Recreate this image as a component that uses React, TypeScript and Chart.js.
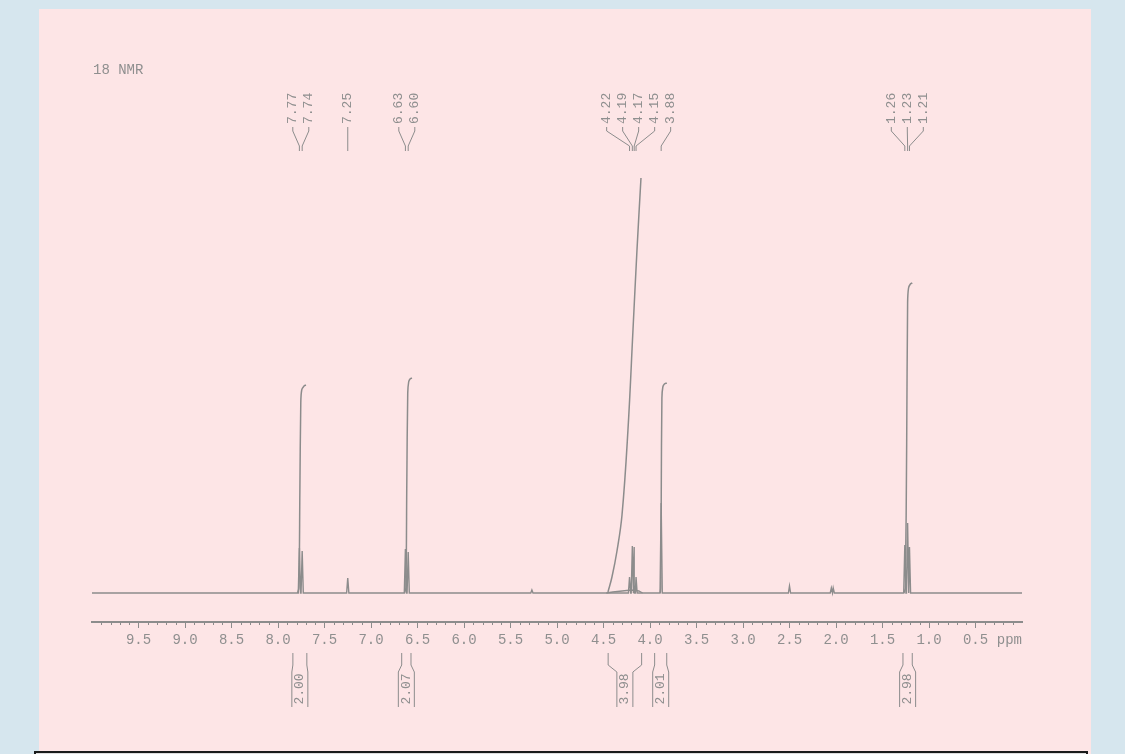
import React, { useEffect, useRef } from "react";
import { Chart, registerables } from "chart.js";

Chart.register(...registerables);

// ---- data (ppm / intensity in arbitrary units) ----
const peakPpm = [7.77, 7.74, 7.25, 6.63, 6.6, 5.27, 4.22, 4.19, 4.17, 4.15, 3.88, 2.5, 2.05, 2.03, 1.26, 1.23, 1.21];
const peakHeight = [45, 42, 15, 44, 41, 3, 16, 47, 46, 16, 90, 7, 5, 5, 48, 70, 46];

const humpPpm = [4.47, 4.4, 4.3, 4.2, 4.12, 4.08];
const humpHeight = [0, 1, 2, 3, 2, 0];

const int1Ppm = [7.79, 7.775, 7.765, 7.755, 7.745, 7.72, 7.7];
const int1Val = [0, 5, 100, 190, 203, 207, 208];
const int2Ppm = [6.64, 6.625, 6.615, 6.605, 6.595, 6.58, 6.56];
const int2Val = [0, 5, 110, 200, 211, 214, 215];
const int3Ppm = [4.452, 4.409, 4.355, 4.301, 4.237, 4.183, 4.14, 4.097];
const int3Val = [1, 16, 42, 78, 163, 263, 343, 415];
const int4Ppm = [3.89, 3.884, 3.879, 3.872, 3.862, 3.845, 3.82];
const int4Val = [0, 5, 100, 195, 206, 209, 210];
const int5Ppm = [1.27, 1.255, 1.24, 1.23, 1.22, 1.2, 1.18];
const int5Val = [0, 5, 150, 290, 305, 309, 310];

const labelGroups = [[7.77, 7.74], [7.25], [6.63, 6.6], [4.22, 4.19, 4.17, 4.15, 3.88], [1.26, 1.23, 1.21]];

const intFrom = [7.84, 6.67, 4.45, 3.95, 1.28];
const intTo = [7.69, 6.57, 4.09, 3.82, 1.18];
const intLabel = ["2.00", "2.07", "3.98", "2.01", "2.98"];

const tickValues = [9.5, 9.0, 8.5, 8.0, 7.5, 7.0, 6.5, 6.0, 5.5, 5.0, 4.5, 4.0, 3.5, 3.0, 2.5, 2.0, 1.5, 1.0, 0.5];
const title = "18 NMR";

const GRAY = "#8c8c8c";
const TEXT = "#8f8f8f";
const MONO = '"Liberation Mono", "DejaVu Sans Mono", monospace';

function zip(xs: number[], ys: number[]) {
  return xs.map((x, i) => ({ x, y: ys[i] }));
}

function buildSpectrum() {
  const pts: { x: number; y: number }[] = [{ x: 0, y: 0 }, { x: 10, y: 0 }];
  peakPpm.forEach((p, i) => {
    const h = peakHeight[i];
    pts.push({ x: p + 0.012, y: 0 }, { x: p, y: h }, { x: p - 0.012, y: 0 });
  });
  pts.sort((a, b) => a.x - b.x);
  return pts;
}

const nmrPlugin = {
  id: "nmrDecor",
  afterDraw(chart: any) {
    const ctx = chart.ctx as CanvasRenderingContext2D;
    const xs = chart.scales.x;
    const ca = chart.chartArea;
    const X = (v: number) => xs.getPixelForValue(v);
    ctx.save();
    ctx.strokeStyle = GRAY;
    ctx.fillStyle = TEXT;
    ctx.lineWidth = 1;

    // minor ticks
    for (let i = 1; i < 100; i++) {
      if (i % 5 === 0) continue;
      const x = Math.round(X(i / 10)) + 0.5;
      ctx.beginPath();
      ctx.moveTo(x, ca.bottom);
      ctx.lineTo(x, ca.bottom + 3);
      ctx.stroke();
    }

    // ppm unit
    ctx.font = "14px " + MONO;
    ctx.textAlign = "right";
    ctx.textBaseline = "middle";
    ctx.fillText("ppm", X(0), ca.bottom + 18);

    // title
    ctx.textAlign = "left";
    ctx.fillText(title, 93, 70);

    // peak labels
    ctx.font = "13px " + MONO;
    const labelBottom = ca.top - 26;
    labelGroups.forEach((g) => {
      const pxs = g.map((p) => X(p));
      const mean = pxs.reduce((a, b) => a + b, 0) / pxs.length;
      const sp = 16;
      g.forEach((p, i) => {
        const lx = mean + (i - (g.length - 1) / 2) * sp;
        ctx.save();
        ctx.translate(lx, labelBottom);
        ctx.rotate(-Math.PI / 2);
        ctx.textAlign = "left";
        ctx.textBaseline = "middle";
        ctx.fillText(p.toFixed(2), 0, 0);
        ctx.restore();
        ctx.beginPath();
        ctx.moveTo(lx, labelBottom + 3);
        ctx.lineTo(lx, labelBottom + 7);
        ctx.lineTo(pxs[i], ca.top - 4);
        ctx.lineTo(pxs[i], ca.top + 1);
        ctx.stroke();
      });
    });

    // integral brackets
    const bTop = ca.bottom + 31;
    intFrom.forEach((f, i) => {
      const xa = X(f);
      const xb = X(intTo[i]);
      const cx = (xa + xb) / 2;
      const hw = 8;
      ctx.beginPath();
      ctx.moveTo(xa, bTop);
      ctx.lineTo(xa, bTop + 12);
      ctx.lineTo(cx - hw, bTop + 19);
      ctx.lineTo(cx - hw, bTop + 54);
      ctx.moveTo(xb, bTop);
      ctx.lineTo(xb, bTop + 12);
      ctx.lineTo(cx + hw, bTop + 19);
      ctx.lineTo(cx + hw, bTop + 54);
      ctx.stroke();
      ctx.save();
      ctx.translate(cx, bTop + 36);
      ctx.rotate(-Math.PI / 2);
      ctx.textAlign = "center";
      ctx.textBaseline = "middle";
      ctx.fillText(intLabel[i], 0, 0);
      ctx.restore();
    });
    ctx.restore();
  },
};

export default function App() {
  const ref = useRef<HTMLCanvasElement | null>(null);

  useEffect(() => {
    document.body.style.margin = "0";
    if (!ref.current) return;
    const lineDs = (data: any[], w = 1.3) => ({
      data,
      borderColor: GRAY,
      borderWidth: w,
      pointRadius: 0,
      fill: false,
      tension: 0,
    });
    const chart = new Chart(ref.current, {
      type: "line",
      data: {
        datasets: [
          lineDs(buildSpectrum(), 1.4),
          lineDs(zip(humpPpm, humpHeight)),
          { ...lineDs(zip(int1Ppm, int1Val), 1.5), tension: 0.3 },
          { ...lineDs(zip(int2Ppm, int2Val), 1.5), tension: 0.3 },
          { ...lineDs(zip(int3Ppm, int3Val), 1.5), tension: 0.4 },
          { ...lineDs(zip(int4Ppm, int4Val), 1.5), tension: 0.3 },
          { ...lineDs(zip(int5Ppm, int5Val), 1.5), tension: 0.3 },
        ] as any,
      },
      options: {
        animation: false,
        responsive: false,
        maintainAspectRatio: false,
        layout: { padding: { left: 92, right: 103, top: 150, bottom: 0 } },
        plugins: { legend: { display: false }, tooltip: { enabled: false }, title: { display: false } },
        events: [],
        scales: {
          x: {
            type: "linear",
            min: 0,
            max: 10,
            reverse: true,
            afterBuildTicks: (scale: any) => {
              scale.ticks = tickValues.map((v) => ({ value: v }));
            },
            afterFit: (scale: any) => {
              scale.height = 132;
            },
            grid: { drawOnChartArea: false, drawTicks: true, tickLength: 6, color: GRAY, lineWidth: 1 },
            border: { display: true, color: GRAY, width: 2 },
            ticks: {
              padding: 4,
              color: TEXT,
              font: { family: MONO, size: 14 },
              maxRotation: 0,
              autoSkip: false,
              callback: (v: any) => Number(v).toFixed(1),
            },
          },
          y: { type: "linear", min: -29, max: 443, display: false },
        },
      } as any,
      plugins: [nmrPlugin],
    });
    return () => chart.destroy();
  }, []);

  return (
    <div style={{ position: "relative", width: 1125, height: 754, overflow: "hidden", background: "#d6e6ee" }}>
      <div style={{ position: "absolute", left: 39, top: 9, width: 1052, height: 760, background: "#fde5e6" }} />
      <div
        style={{
          position: "absolute",
          left: 34,
          top: 751,
          width: 1050,
          height: 30,
          border: "2px solid #1a1a1a",
          background: "#dcdcdc",
        }}
      />
      <canvas ref={ref} width={1125} height={754} style={{ position: "absolute", left: 0, top: 0, display: "block" }} />
    </div>
  );
}
